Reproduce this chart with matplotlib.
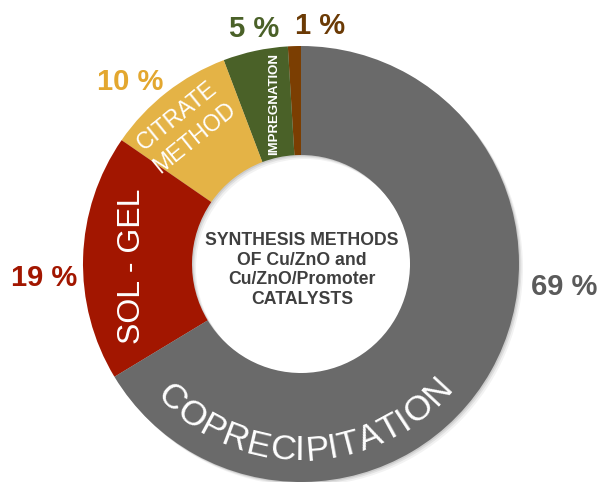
import numpy as np
import matplotlib
matplotlib.use("Agg")
import matplotlib.pyplot as plt
from matplotlib.patches import Wedge
from matplotlib import font_manager

plt.rcParams["font.family"] = ["Liberation Sans", "DejaVu Sans"]

# data (counter-clockwise from 12 o'clock)
methods = ["1%", "IMPREGNATION", "CITRATE\nMETHOD", "SOL - GEL", "COPRECIPITATION"]
shares = [1, 5, 10, 19, 69]
wedge_colors = ["#7b3e02", "#4a6128", "#e4b346", "#a21600", "#6a6a6a"]
label_colors = ["#6b3a05", "#4a6128", "#e3a72f", "#a21600", "#5a5a5a"]
center_title = "SYNTHESIS METHODS\nOF Cu/ZnO and\nCu/ZnO/Promoter\nCATALYSTS"

W, H = 601, 482
cx, cy = 301, H - 264
R = 218
ring = 0.5

installed = {f.name for f in font_manager.fontManager.ttflist}
narrow = "Liberation Sans Narrow" if "Liberation Sans Narrow" in installed else "Liberation Sans"

fig = plt.figure(figsize=(W / 100, H / 100), dpi=100)
ax = fig.add_axes([0, 0, 1, 1])

# soft shadow behind the ring
for k, a in [(4, 0.05), (2.5, 0.07), (1.2, 0.09)]:
    ax.add_patch(Wedge((cx + k, cy - k), R, 0, 360, width=R * ring,
                       color="black", alpha=a, lw=0, zorder=0))

wedges, _ = ax.pie(shares, colors=wedge_colors, startangle=90,
                   counterclock=True, radius=R, center=(cx, cy),
                   wedgeprops=dict(width=R * ring, linewidth=0),
                   frame=True)
ax.set_xlim(0, W)
ax.set_ylim(0, H)
ax.set_aspect("equal")
ax.axis("off")

# percentage labels
pct_pos = [(320, H - 26), (254, H - 29), (130, H - 82), (44, H - 278), (564, H - 287)]
for v, c, (x, y) in zip(shares, label_colors, pct_pos):
    ax.text(x, y, f"{v} %", color=c, fontsize=21, fontweight="bold",
            ha="center", va="center")

# centre title
ax.text(cx + 1, cy - 6, center_title, color="#3f3f3f", fontsize=12.7,
        fontweight="bold", ha="center", va="center", linespacing=1.2)

# labels inside wedges
ax.text(274, H - 104, methods[1], color="white", fontsize=12 if narrow != "Liberation Sans" else 9.5,
        fontweight="bold", family=narrow, rotation=90, ha="center", va="center")
ax.text(186, H - 127, methods[2], color="white", fontsize=16.5,
        rotation=39, ha="center", va="center", linespacing=1.3,
        multialignment="center")
ax.text(132, H - 266, methods[3], color="white", fontsize=23,
        rotation=90, ha="center", va="center")

# curved label along the bottom of the ring
word = methods[4]
r_txt = 187
fs = 25.5
renderer = fig.canvas.get_renderer()
widths = []
for ch in word:
    t = ax.text(0, 0, ch, fontsize=fs)
    widths.append(t.get_window_extent(renderer).width)
    t.remove()
widths = np.array(widths)
total = widths.sum()
mid_angle = 271.5
start = mid_angle - np.degrees(total / r_txt) / 2
pos = start + np.degrees((np.cumsum(widths) - widths / 2) / r_txt)
for ch, th in zip(word, pos):
    rad = np.radians(th)
    ax.text(cx + r_txt * np.cos(rad), cy + r_txt * np.sin(rad), ch,
            color="white", fontsize=fs, rotation=th + 90,
            rotation_mode="anchor", ha="center", va="center")

fig.savefig("out.png", dpi=100)
